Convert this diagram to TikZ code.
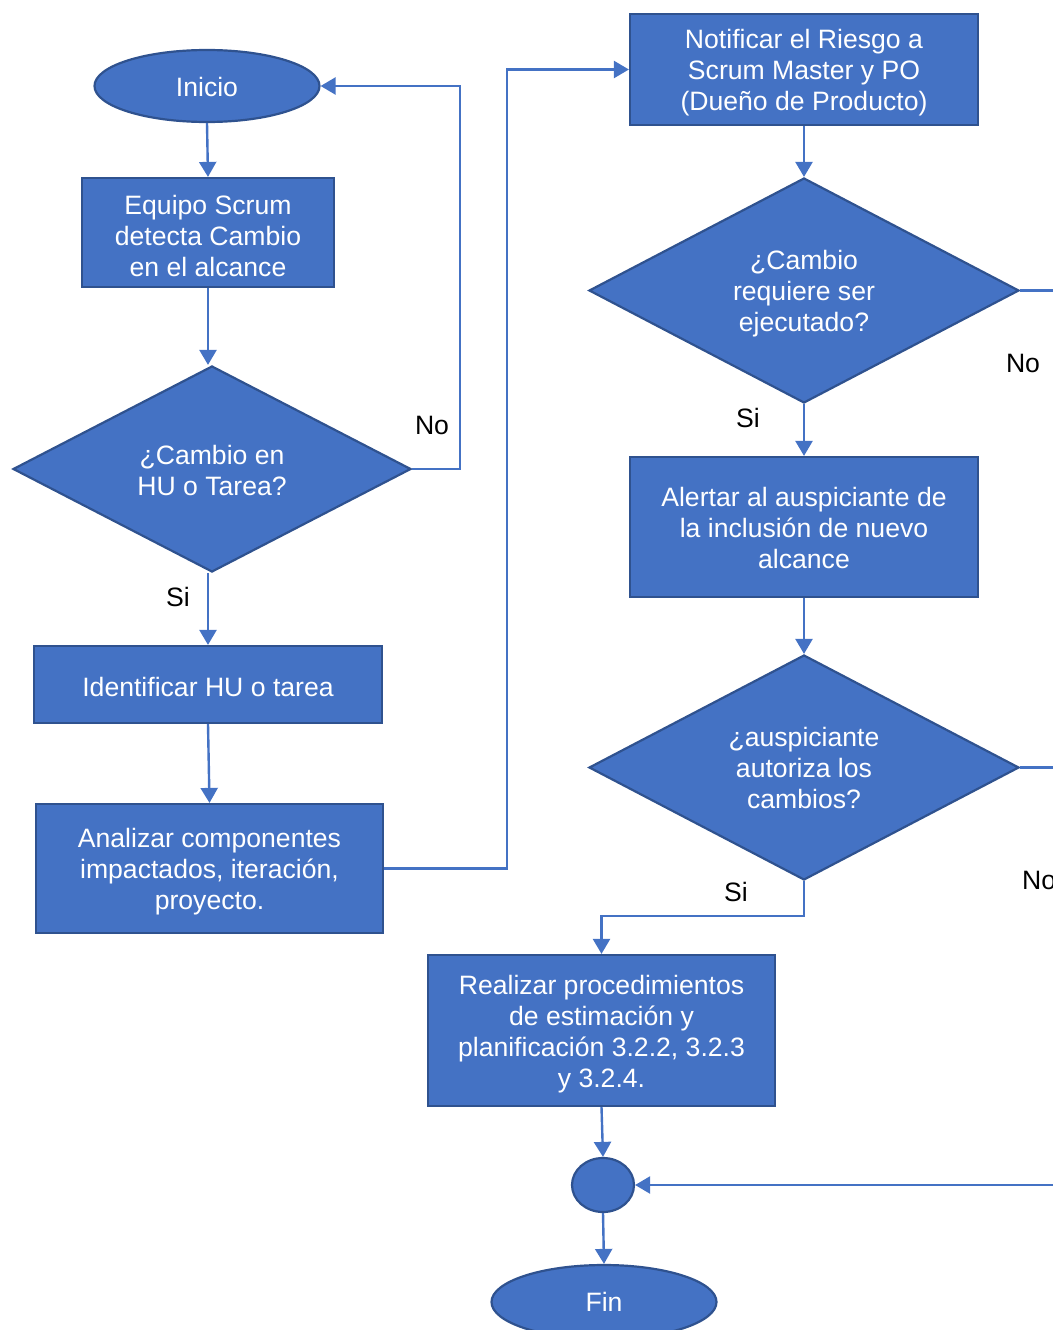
\documentclass[tikz,border=0pt]{standalone}
\usepackage{fontspec}
\setmainfont{Liberation Sans}
\usetikzlibrary{shapes.geometric,arrows.meta}
\definecolor{boxfill}{HTML}{4472C4}
\definecolor{boxline}{HTML}{2F528F}
\begin{document}
\begin{tikzpicture}[x=1pt,y=-1pt,
  font=\fontsize{26.6}{31}\selectfont,
  base/.style={fill=boxfill,draw=boxline,line width=2.2pt,inner sep=0pt},
  procbox/.style={base,rectangle},
  decision/.style={base,diamond},
  terminal/.style={base,ellipse},
  caption/.style={text=white,align=center,inner sep=0pt,yshift=-3.5pt},
  link/.style={draw=boxfill,line width=2.4pt,-{Triangle[width=17pt,length=15pt]}},
  plainlink/.style={draw=boxfill,line width=2.4pt},
  lbl/.style={text=black,inner sep=0pt}]
\useasboundingbox (0,0) rectangle (1052,1330);

% left column shapes
\node[terminal,minimum width=225pt,minimum height=72pt] (inicio) at (207,86) {};
\node[procbox,minimum width=252pt,minimum height=109pt] (equipo) at (208,232.5) {};
\node[decision,minimum width=398pt,minimum height=206pt] (dec1) at (212,469) {};
\node[procbox,minimum width=348pt,minimum height=77pt] (ident) at (208,684.5) {};
\node[procbox,minimum width=347pt,minimum height=129pt] (anal) at (209.5,868.5) {};

% right column shapes
\node[procbox,minimum width=348pt,minimum height=111pt] (notif) at (804,69.5) {};
\node[decision,minimum width=430pt,minimum height=225pt] (dec2) at (804,290.5) {};
\node[procbox,minimum width=348pt,minimum height=140pt] (alert) at (804,527) {};
\node[decision,minimum width=430pt,minimum height=225pt] (dec3) at (804,767.5) {};
\node[procbox,minimum width=347pt,minimum height=151pt] (real) at (601.5,1030.5) {};
\node[terminal,minimum width=62pt,minimum height=54pt] (join) at (603,1185) {};
\node[terminal,minimum width=225pt,minimum height=74pt] (fin) at (604,1302) {};

% texts inside the shapes
\node[caption,yshift=3pt] (tinicio) at (inicio) {Inicio};
\node[caption] (tequipo) at (equipo) {Equipo Scrum\\detecta Cambio\\en el alcance};
\node[caption,yshift=2.5pt] (tdec1) at (dec1) {¿Cambio en\\HU o Tarea?};
\node[caption,yshift=1pt] (tident) at (ident) {Identificar HU o tarea};
\node[caption] (tanal) at (anal) {Analizar componentes\\impactados, iteración,\\proyecto.};
\node[caption] (tnotif) at (notif) {Notificar el Riesgo a\\Scrum Master y PO\\(Dueño de Producto)};
\node[caption,yshift=0.5pt] (tdec2) at (dec2) {¿Cambio\\requiere ser\\ejecutado?};
\node[caption,yshift=2.5pt] (talert) at (alert) {Alertar al auspiciante de\\la inclusión de nuevo\\alcance};
\node[caption,yshift=3.5pt] (tdec3) at (dec3) {¿auspiciante\\autoriza los\\cambios?};
\node[caption] (treal) at (real) {Realizar procedimientos\\de estimación y\\planificación 3.2.2, 3.2.3\\y 3.2.4.};
\node[caption,yshift=4pt] (tfin) at (fin) {Fin};

% connectors, left column
\draw[link] (inicio.south) -- (equipo.north);
\draw[link] (equipo.south) -- (dec1.north -| equipo.south);
\draw[link] (dec1.east) -- (460,469) -- (460,86) -- (inicio.east);
\draw[link] (dec1.south -| ident.north) -- (ident.north);
\draw[link] (ident.south) -- (anal.north);
\draw[link] (anal.east) -- (507,868.5) -- (507,69.5) -- (notif.west);

% connectors, right column
\draw[link] (notif.south) -- (dec2.north);
\draw[link] (dec2.south) -- (alert.north);
\draw[link] (alert.south) -- (dec3.north);
\draw[link] (dec3.south) -- (804,916) -- (601.5,916) -- (real.north);
\draw[link] (real.south) -- (join.north);
\draw[link] (join.south) -- (fin.north);

% branches leaving to the right
\coordinate (out2) at (1056,290.5);
\coordinate (out3) at (1056,767.5);
\coordinate (back) at (1056,1185);
\draw[plainlink] (dec2.east) -- (out2);
\draw[plainlink] (dec3.east) -- (out3);
\draw[link] (back) -- (join.east);

% branch labels
\node[lbl] (no1) at (432,425) {No};
\node[lbl] (si1) at (178,597) {Si};
\node[lbl] (no2) at (1023,363) {No};
\node[lbl] (si2) at (748,418) {Si};
\node[lbl,anchor=west] (no3) at (1022,880) {No};
\node[lbl] (si3) at (736,892) {Si};
\end{tikzpicture}
\end{document}
